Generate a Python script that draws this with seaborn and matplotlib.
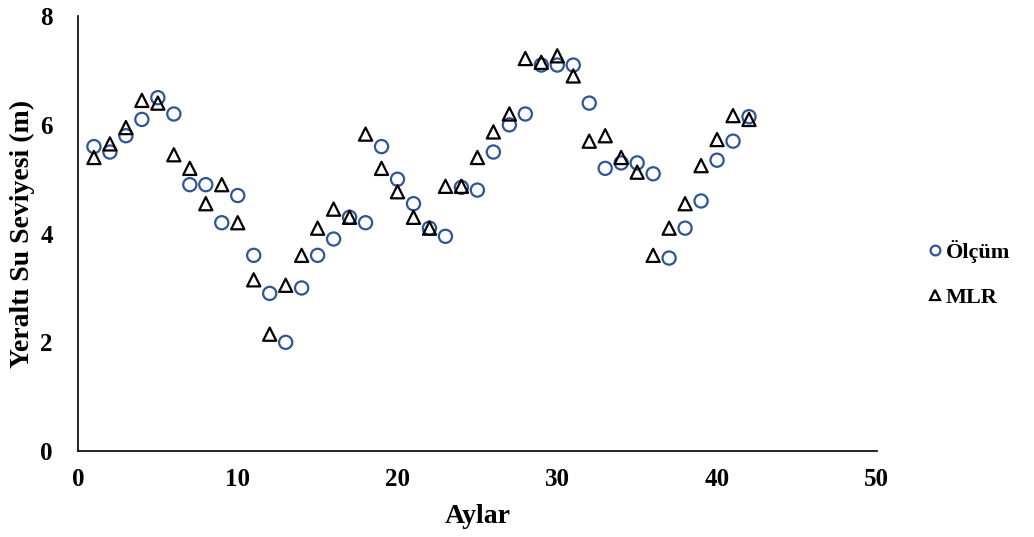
import numpy as np
import pandas as pd
import matplotlib
matplotlib.use("Agg")
import matplotlib.pyplot as plt
import seaborn as sns
from matplotlib.lines import Line2D

months = list(range(1, 43))
olcum = [5.6, 5.5, 5.8, 6.1, 6.5, 6.2, 4.9, 4.9, 4.2, 4.7,
         3.6, 2.9, 2.0, 3.0, 3.6, 3.9, 4.3, 4.2, 5.6, 5.0,
         4.55, 4.1, 3.95, 4.85, 4.8, 5.5, 6.0, 6.2, 7.1, 7.1,
         7.1, 6.4, 5.2, 5.3, 5.3, 5.1, 3.55, 4.1, 4.6, 5.35,
         5.7, 6.15]
mlr = [5.4, 5.65, 5.95, 6.45, 6.4, 5.45, 5.2, 4.55, 4.9, 4.2,
       3.15, 2.15, 3.05, 3.6, 4.1, 4.45, 4.3, 5.83, 5.2, 4.77,
       4.3, 4.1, 4.87, 4.87, 5.4, 5.87, 6.2, 7.22, 7.15, 7.27,
       6.9, 5.7, 5.8, 5.4, 5.13, 3.6, 4.1, 4.55, 5.25, 5.73,
       6.17, 6.1]
series_names = ["Ölçüm", "MLR"]

df = pd.concat([
    pd.DataFrame({"Aylar": months, "val": olcum, "Seri": series_names[0]}),
    pd.DataFrame({"Aylar": months, "val": mlr, "Seri": series_names[1]}),
])

sns.set_style("white")
plt.rcParams["font.family"] = ["Liberation Serif", "DejaVu Serif"]
plt.rcParams["font.weight"] = "bold"
plt.rcParams["text.color"] = "black"
plt.rcParams["axes.labelcolor"] = "black"
plt.rcParams["xtick.color"] = "black"
plt.rcParams["ytick.color"] = "black"

fig = plt.figure(figsize=(10.34, 5.37), dpi=100)
ax = fig.add_axes([0.0754, 0.160, 0.7726, 0.810])

palette = {"Ölçüm": "#2F5597", "MLR": "#000000"}
markers = {"Ölçüm": "o", "MLR": "^"}
sns.scatterplot(data=df, x="Aylar", y="val", hue="Seri", style="Seri",
                palette=palette, markers=markers, s=90, ax=ax,
                linewidth=1.6, legend=False)
coll = ax.collections[0]
cols = [palette[s] for s in df["Seri"]]
coll.set_facecolor("none")
coll.set_edgecolor(cols)

ax.set_xlim(0, 50)
ax.set_ylim(0, 8)
ax.set_xticks([0, 10, 20, 30, 40, 50])
ax.set_yticks([0, 2, 4, 6, 8])
ax.tick_params(axis="x", length=0, labelsize=18, pad=12, colors="black")
ax.tick_params(axis="y", length=0, labelsize=18, pad=18, colors="black")
for lab in ax.get_xticklabels() + ax.get_yticklabels():
    lab.set_fontweight("bold")
sns.despine(ax=ax)
for sp in ["left", "bottom"]:
    ax.spines[sp].set_color("black")
    ax.spines[sp].set_linewidth(1.2)
ax.set_xlabel("Aylar", fontsize=20, fontweight="bold", color="black")
ax.set_ylabel("Yeraltı Su Seviyesi (m)", fontsize=20, fontweight="bold", color="black")
ax.yaxis.set_label_coords(-0.054, 0.5)
ax.xaxis.set_label_coords(0.5, -0.122)

handles = [Line2D([], [], marker="o", ls="none", markersize=7, markerfacecolor="none",
                  markeredgecolor="#2F5597", markeredgewidth=1.6),
           Line2D([], [], marker="^", ls="none", markersize=7, markerfacecolor="none",
                  markeredgecolor="black", markeredgewidth=1.6)]
fig.legend(handles, series_names, loc="center left", bbox_to_anchor=(0.874, 0.49),
           frameon=False, prop={"family": "Liberation Serif", "weight": "bold", "size": 16},
           handletextpad=0.0, labelspacing=1.1, handlelength=1.0, labelcolor="black")

fig.savefig("out.png", dpi=100)
